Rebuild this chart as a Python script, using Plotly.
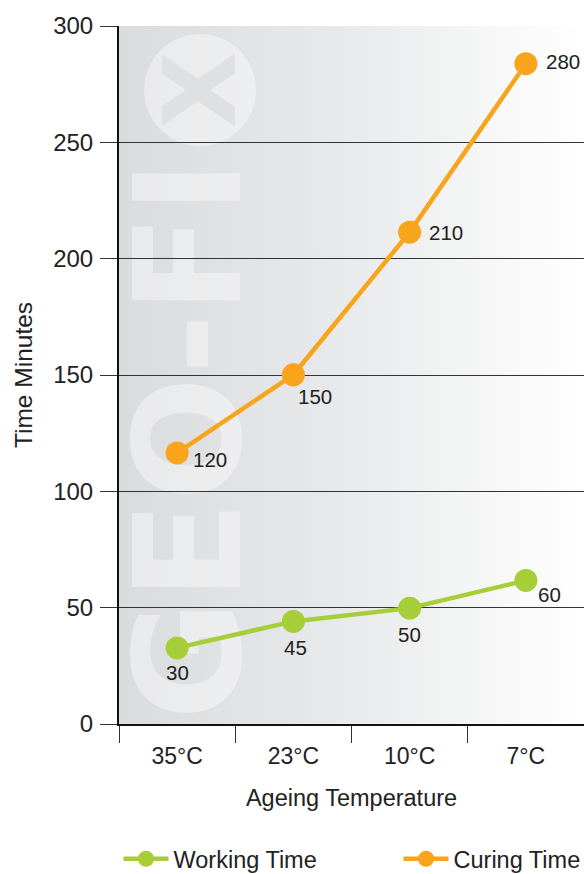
import plotly.graph_objects as go
import base64

categories = ["35°C", "23°C", "10°C", "7°C"]
working_time = [32.7, 44.1, 49.8, 61.7]
curing_time = [116.5, 150.1, 211.4, 283.8]
working_labels = ["30", "45", "50", "60"]
curing_labels = ["120", "150", "210", "280"]
y_ticks = [0, 50, 100, 150, 200, 250, 300]

GREEN = "#a6ce39"
ORANGE = "#f8a51d"
TXT = "#222222"
FONT = "Liberation Sans, Arial, sans-serif"

# label offsets (px) relative to each point: style only
working_offsets = [(0, -25), (2, -26), (0, -26), (24, -14)]
curing_offsets = [(33, -7), (22, -22), (36, 0), (37, 2)]

fig = go.Figure()
fig.add_trace(go.Scatter(
    x=categories, y=working_time, name="Working Time", mode="lines+markers",
    line=dict(color=GREEN, width=4.5), marker=dict(color=GREEN, size=23),
    cliponaxis=False))
fig.add_trace(go.Scatter(
    x=categories, y=curing_time, name="Curing Time", mode="lines+markers",
    line=dict(color=ORANGE, width=4.5), marker=dict(color=ORANGE, size=23),
    cliponaxis=False))

annotations = []
for cat, val, lab, (dx, dy) in zip(categories, working_time, working_labels, working_offsets):
    annotations.append(dict(x=cat, y=val, text=lab, showarrow=False, xshift=dx, yshift=dy,
                            font=dict(size=20.5, color=TXT, family=FONT)))
for cat, val, lab, (dx, dy) in zip(categories, curing_time, curing_labels, curing_offsets):
    annotations.append(dict(x=cat, y=val, text=lab, showarrow=False, xshift=dx, yshift=dy,
                            font=dict(size=20.5, color=TXT, family=FONT)))

# background: gradient + faint watermark (decorative)
svg = """<svg xmlns='http://www.w3.org/2000/svg' width='465' height='698' viewBox='0 0 465 698' preserveAspectRatio='none'>
<defs><linearGradient id='g' x1='0' y1='0' x2='1' y2='0'>
<stop offset='0' stop-color='#dadbdd'/><stop offset='0.5' stop-color='#e9eaeb'/><stop offset='1' stop-color='#ffffff'/>
</linearGradient></defs>
<rect x='0' y='0' width='465' height='698' fill='url(#g)'/>
<g fill='#ffffff' fill-opacity='0.4'>
<text transform='translate(121,694) rotate(-90)' x='0' y='0' font-family='DejaVu Sans' font-weight='bold' font-size='148' textLength='560' lengthAdjust='spacingAndGlyphs'>GEO-FI</text>
<circle cx='81' cy='64' r='56'/>
</g>
<text transform='translate(121,64) rotate(-90)' x='0' y='0' text-anchor='middle' font-family='DejaVu Sans' font-weight='bold' font-size='100' fill='#dfe0e2'><tspan dy='-5'>X</tspan></text>
</svg>"""
uri = "data:image/svg+xml;base64," + base64.b64encode(svg.encode()).decode()

fig.update_layout(
    width=584, height=874,
    margin=dict(l=119, r=0, t=26, b=150, autoexpand=False),
    paper_bgcolor="white", plot_bgcolor="rgba(0,0,0,0)",
    font=dict(family=FONT, size=23, color=TXT),
    showlegend=True,
    legend=dict(orientation="h", xref="paper", x=-0.001, xanchor="left",
                yref="paper", y=-0.1934, yanchor="middle",
                entrywidth=220, entrywidthmode="pixels", itemwidth=45,
                font=dict(size=23.5, color=TXT), itemsizing="trace"),
    annotations=annotations,
    images=[dict(source=uri, xref="paper", yref="paper", x=0, y=1, sizex=1, sizey=1,
                 sizing="stretch", xanchor="left", yanchor="top", layer="below")],
    xaxis=dict(type="category", range=[-0.5, 3.5], showline=True, linecolor="#111", linewidth=2,
               ticks="outside", tickson="boundaries", ticklen=17, tickcolor="#333", tickwidth=1,
               showgrid=False, zeroline=False, ticklabelstandoff=10,
               tickfont=dict(size=23),
               title=dict(text="Ageing Temperature", standoff=22, font=dict(size=23.5))),
    yaxis=dict(range=[0, 300], tickvals=y_ticks, showline=True, linecolor="#111", linewidth=2,
               ticks="outside", ticklen=17, tickcolor="#333", tickwidth=1,
               showgrid=True, gridcolor="#333", gridwidth=1, zeroline=False,
               tickfont=dict(size=24), ticklabelstandoff=2,
               title=dict(text="Time Minutes", standoff=14, font=dict(size=24.5))),
)

fig.write_html("out.html", config={"displayModeBar": False},
               post_script="document.body.style.margin='0';")
